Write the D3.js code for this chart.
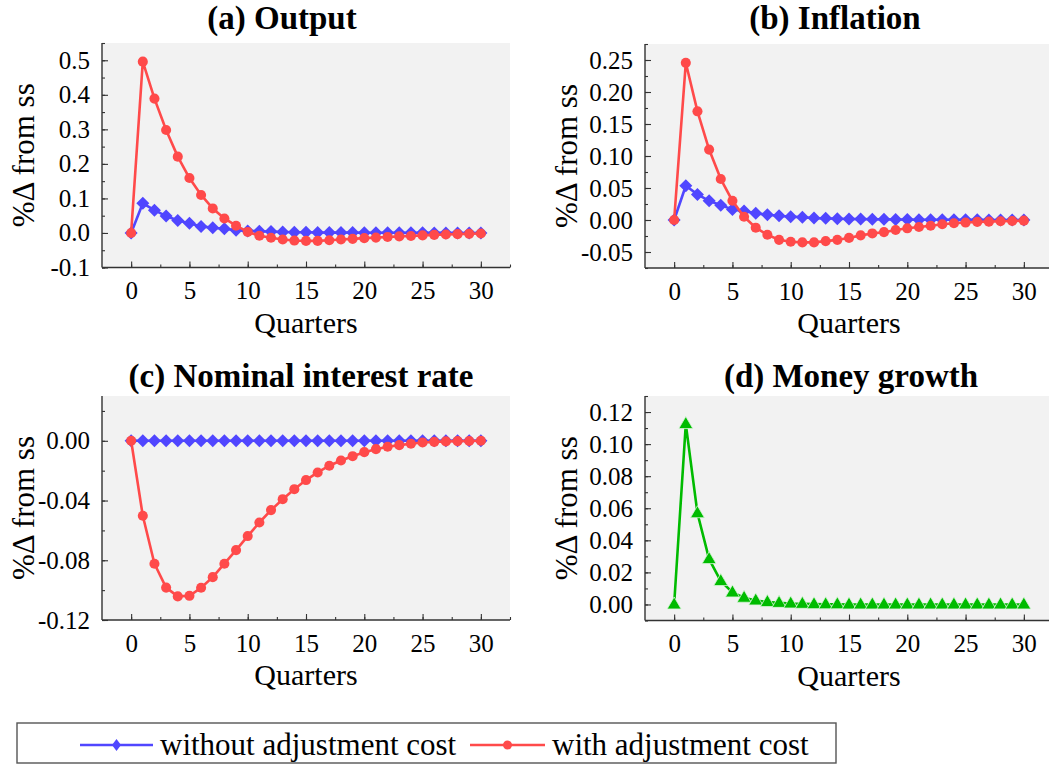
<!DOCTYPE html>
<html>
<head>
<meta charset="utf-8">
<script src="https://cdn.jsdelivr.net/npm/d3@7"></script>
<style>
  html, body { margin: 0; padding: 0; background: #fff; }
  svg { display: block; }
</style>
</head>
<body>
<svg id="chart" width="1049" height="767" font-family="Liberation Serif"></svg>
<script>
// ---------- data ----------
const quarters = d3.range(0, 31);

const outputNoCost = [0, 0.086, 0.066, 0.049, 0.036, 0.028, 0.019, 0.015, 0.012, 0.008, 0.006,
  0.005, 0.004, 0.003, 0.002, 0.002, 0.0015, 0.001, 0.001, 0.001, 0.0008,
  0.0006, 0.0005, 0.0004, 0.0003, 0.0003, 0.0002, 0.0002, 0.0001, 0.0001, 0];
const outputCost = [0, 0.496, 0.389, 0.298, 0.221, 0.159, 0.110, 0.071, 0.042, 0.021, 0.003,
  -0.008, -0.014, -0.019, -0.022, -0.023, -0.023, -0.021, -0.019, -0.017, -0.015,
  -0.0135, -0.0115, -0.010, -0.0087, -0.007, -0.0055, -0.0045, -0.0035, -0.0025, -0.0015];

const inflNoCost = [0, 0.0535, 0.040, 0.030, 0.023, 0.0166, 0.014, 0.0104, 0.0083, 0.0067, 0.0052,
  0.0042, 0.003, 0.0026, 0.002, 0.0016, 0.0014, 0.0012, 0.001, 0.0008, 0.0006,
  0.0005, 0.0004, 0.0003, 0.0003, 0.0002, 0.0002, 0.0001, 0.0001, 0.0001, 0];
const inflCost = [0, 0.2456, 0.1698, 0.110, 0.064, 0.030, 0.005, -0.012, -0.023, -0.031, -0.034,
  -0.035, -0.035, -0.033, -0.031, -0.028, -0.024, -0.021, -0.019, -0.0156, -0.013,
  -0.011, -0.009, -0.0067, -0.005, -0.004, -0.003, -0.0026, -0.002, -0.0016, -0.001];

const rateNoCost = [0, 0, 0, 0, 0, 0, 0, 0, 0, 0, 0, 0, 0, 0, 0, 0,
  0, 0, 0, 0, 0, 0, 0, 0, 0, 0, 0, 0, 0, 0, 0];
const rateCost = [0, -0.0502, -0.0823, -0.0983, -0.1042, -0.1038, -0.0984, -0.0913, -0.0823, -0.0732, -0.0638,
  -0.0547, -0.0464, -0.0391, -0.0324, -0.0263, -0.0212, -0.0167, -0.0132, -0.0103, -0.0076,
  -0.0056, -0.004, -0.0029, -0.002, -0.0011, -0.0007, -0.0004, -0.0002, -0.0001, 0];

const moneyGrowth = [0, 0.1125, 0.0569, 0.0283, 0.0146, 0.0075, 0.0042, 0.0025, 0.0015, 0.001, 0.0006,
  0.0004, 0.0002, 0.0001, 0.0001, 0, 0, 0, 0, 0, 0,
  0, 0, 0, 0, 0, 0, 0, 0, 0, 0];

const titles = ["(a) Output", "(b) Inflation", "(c) Nominal interest rate", "(d) Money growth"];
const yTicksA = [-0.1, 0.0, 0.1, 0.2, 0.3, 0.4, 0.5];
const yTicksB = [-0.05, 0.00, 0.05, 0.10, 0.15, 0.20, 0.25];
const yTicksC = [-0.12, -0.08, -0.04, 0.00];
const yTicksD = [0.00, 0.02, 0.04, 0.06, 0.08, 0.10, 0.12];
const xTicks = [0, 5, 10, 15, 20, 25, 30];
const legendLabels = ["without adjustment cost", "with adjustment cost"];
const yLabel = "%\u0394 from ss";
const xLabel = "Quarters";

// ---------- style ----------
const FONT = "Liberation Serif";
const BLUE = "#5046ff";
const RED = "#ff4a4a";
const GREEN = "#00bb00";
const BG = "#f2f2f2";
const AXIS = "#333";

const svg = d3.select("#chart");

const panels = [
  { title: titles[0], tx: 282, ty: 29, x0: 102, x1: 510, y0: 43, y1: 267.5, dom: [-0.1, 0.55],
    ticks: yTicksA, minor: 0.05, fmt: d3.format(".1f"),
    series: [{ v: outputNoCost, c: BLUE, m: "diamond" }, { v: outputCost, c: RED, m: "circle" }] },
  { title: titles[1], tx: 835, ty: 29, x0: 645, x1: 1053, y0: 44, y1: 268, dom: [-0.075, 0.275],
    ticks: yTicksB, minor: 0.025, fmt: d3.format(".2f"),
    series: [{ v: inflNoCost, c: BLUE, m: "diamond" }, { v: inflCost, c: RED, m: "circle" }] },
  { title: titles[2], tx: 301, ty: 387, x0: 102, x1: 510, y0: 396, y1: 620, dom: [-0.12, 0.03],
    ticks: yTicksC, minor: 0.02, fmt: d3.format(".2f"),
    series: [{ v: rateNoCost, c: BLUE, m: "diamond" }, { v: rateCost, c: RED, m: "circle" }] },
  { title: titles[3], tx: 851, ty: 387, x0: 645, x1: 1053, y0: 396, y1: 620.5, dom: [-0.01, 0.13],
    ticks: yTicksD, minor: 0.01, fmt: d3.format(".2f"),
    series: [{ v: moneyGrowth, c: GREEN, m: "triangle" }] }
];

const diamondPath = "M0,-6.5L6.5,0L0,6.5L-6.5,0Z";
const trianglePath = "M0,-7.5L7,4.5L-7,4.5Z";
const fmtMinus = f => (d => f(d).replace("\u2212", "-"));

panels.forEach(p => {
  const g = svg.append("g");
  const x = d3.scaleLinear().domain([-2.5, 32.5]).range([p.x0, p.x1]);
  const y = d3.scaleLinear().domain(p.dom).range([p.y1, p.y0]);

  g.append("rect").attr("x", p.x0).attr("y", p.y0)
    .attr("width", p.x1 - p.x0).attr("height", p.y1 - p.y0).attr("fill", BG);

  const yMinor = d3.range(Math.ceil(p.dom[0] / p.minor - 1e-6), Math.floor(p.dom[1] / p.minor + 1e-6) + 1)
    .map(k => k * p.minor);
  const xMinor = d3.range(0, 33, 2.5);

  const yAxis = d3.axisLeft(y).tickValues(p.ticks).tickFormat(fmtMinus(p.fmt)).tickSize(-6).tickPadding(12);
  const xAxis = d3.axisBottom(x).tickValues(xTicks).tickFormat(d3.format("d")).tickSize(-6).tickPadding(14);
  const yAxisMinor = d3.axisLeft(y).tickValues(yMinor).tickFormat("").tickSize(-3);
  const xAxisMinor = d3.axisBottom(x).tickValues(xMinor).tickFormat("").tickSize(-3);

  const gy = g.append("g").attr("transform", `translate(${p.x0},0)`).call(yAxis);
  g.append("g").attr("transform", `translate(${p.x0},0)`).call(yAxisMinor)
    .call(s => s.select(".domain").remove());
  const gx = g.append("g").attr("transform", `translate(0,${p.y1})`).call(xAxis);
  g.append("g").attr("transform", `translate(0,${p.y1})`).call(xAxisMinor)
    .call(s => s.select(".domain").remove());

  gy.select(".domain").attr("d", `M0,${p.y0}V${p.y1}`);
  gx.select(".domain").attr("d", `M${p.x0},0H${p.x1}`);
  g.selectAll("g").attr("font-family", FONT);
  g.selectAll(".domain").attr("stroke", AXIS).attr("stroke-width", 1.4);
  g.selectAll(".tick line").attr("stroke", AXIS).attr("stroke-width", 1.1);
  g.selectAll(".tick text").attr("font-size", 25).attr("fill", "#000").attr("font-family", FONT);
  gx.selectAll(".tick text").attr("dy", "0.71em");

  // titles and labels
  g.append("text").attr("x", p.tx).attr("y", p.ty).attr("text-anchor", "middle")
    .attr("font-family", FONT).attr("font-size", 33).attr("font-weight", "bold").text(p.title);
  g.append("text").attr("transform", `translate(${p.x0 - 68},${(p.y0 + p.y1) / 2}) rotate(-90)`)
    .attr("text-anchor", "middle").attr("font-family", FONT).attr("font-size", 31).text(yLabel);
  g.append("text").attr("x", x(15)).attr("y", p.y1 + 65).attr("text-anchor", "middle")
    .attr("font-family", FONT).attr("font-size", 30).text(xLabel);

  // series
  const clipId = "clip" + p.x0 + "_" + p.y0;
  g.append("clipPath").attr("id", clipId).append("rect")
    .attr("x", p.x0 - 10).attr("y", p.y0 - 10).attr("width", p.x1 - p.x0 + 20).attr("height", p.y1 - p.y0 + 20);
  const plot = g.append("g").attr("clip-path", `url(#${clipId})`);
  const line = d3.line().x((d, i) => x(quarters[i])).y(d => y(d));

  p.series.forEach(s => {
    plot.append("path").datum(s.v).attr("d", line).attr("fill", "none")
      .attr("stroke", s.c).attr("stroke-width", 2.6).attr("stroke-linejoin", "round");
    const pts = plot.append("g").selectAll("path.m").data(s.v).join("path")
      .attr("transform", (d, i) => `translate(${x(quarters[i])},${y(d)})`)
      .attr("fill", s.c);
    if (s.m === "diamond") pts.attr("d", diamondPath);
    else if (s.m === "circle") pts.attr("d", d3.symbol(d3.symbolCircle, 80)());
    else pts.attr("d", trianglePath).attr("stroke", "#d8f5d8").attr("stroke-width", 0.8);
  });
});

// ---------- legend ----------
const lg = svg.append("g");
lg.append("rect").attr("x", 17).attr("y", 723).attr("width", 819).attr("height", 40)
  .attr("fill", "#fff").attr("stroke", "#555").attr("stroke-width", 1.4);
const legendItems = [
  { label: legendLabels[0], c: BLUE, m: "diamond", lx0: 80, lx1: 153, tx: 160 },
  { label: legendLabels[1], c: RED, m: "circle", lx0: 470, lx1: 545, tx: 552 }
];
legendItems.forEach(it => {
  lg.append("line").attr("x1", it.lx0).attr("x2", it.lx1).attr("y1", 745).attr("y2", 745)
    .attr("stroke", it.c).attr("stroke-width", 2.6);
  const cx = (it.lx0 + it.lx1) / 2;
  if (it.m === "diamond") lg.append("path").attr("d", "M0,-6L4.5,0L0,6L-4.5,0Z")
    .attr("transform", `translate(${cx},745)`).attr("fill", it.c);
  else lg.append("circle").attr("cx", cx).attr("cy", 745).attr("r", 4.5).attr("fill", it.c);
  lg.append("text").attr("x", it.tx).attr("y", 755).attr("font-family", FONT)
    .attr("font-size", 31).text(it.label);
});
</script>
</body>
</html>
